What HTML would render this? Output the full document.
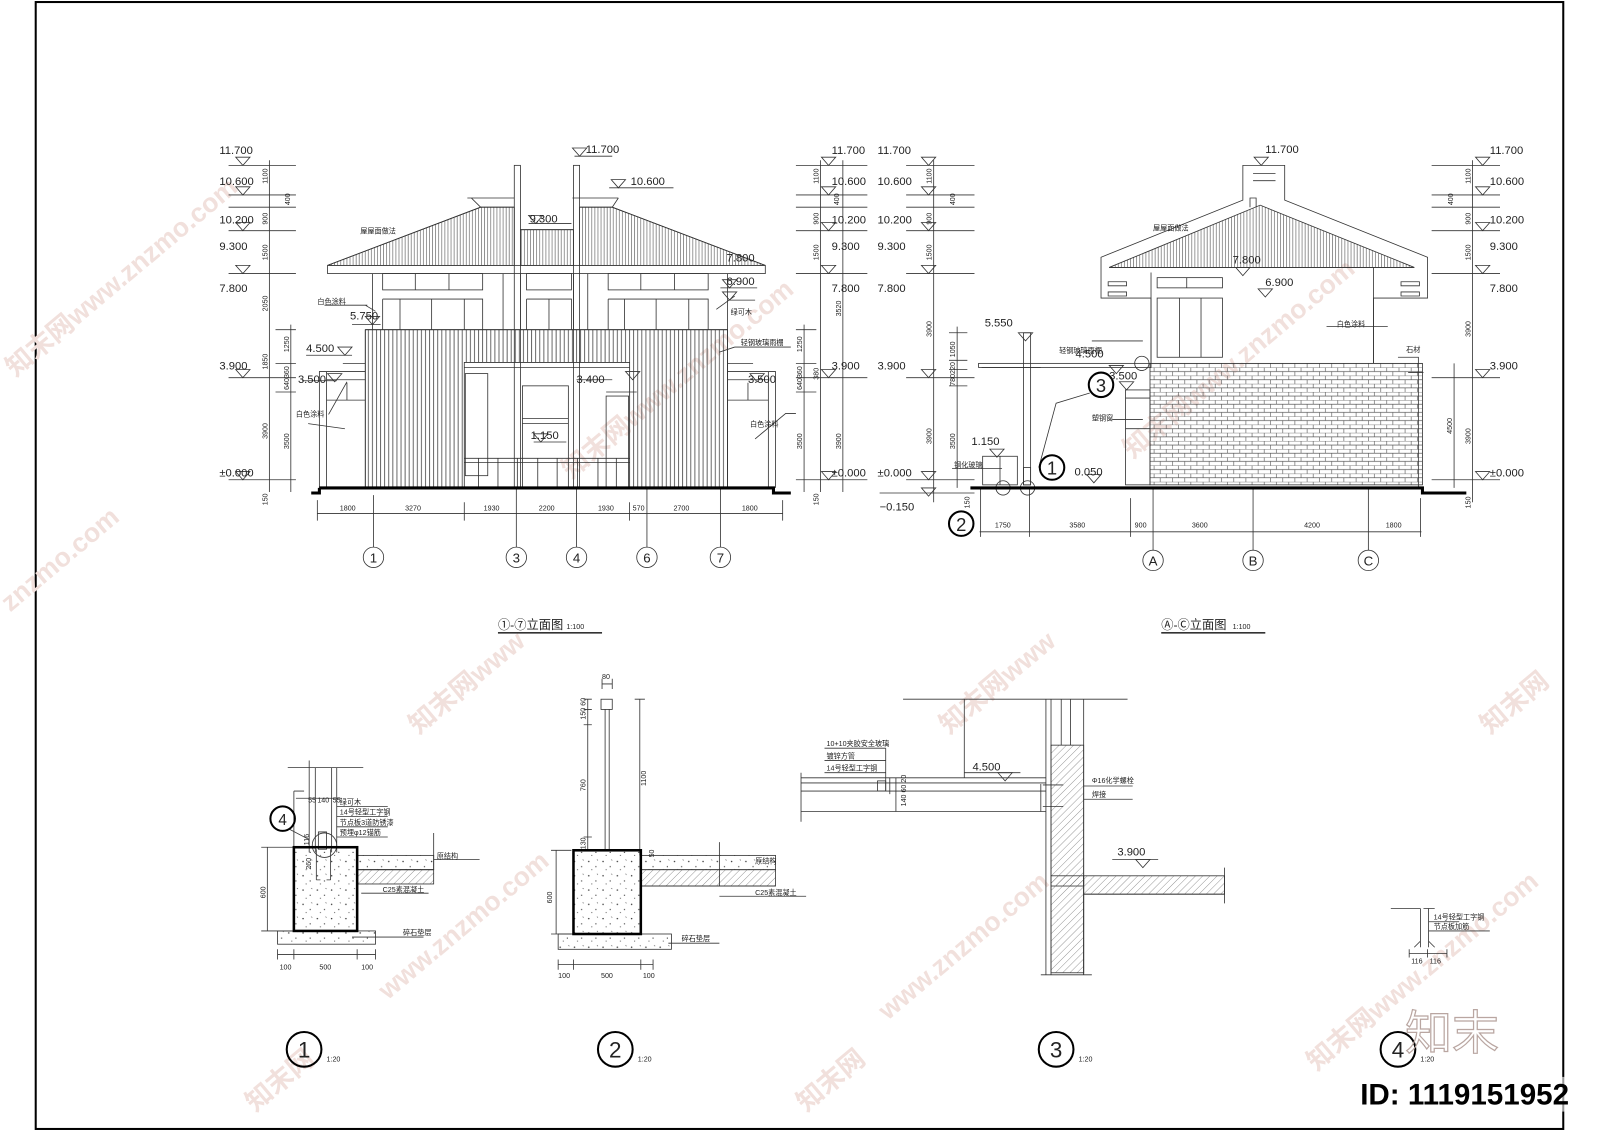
<!DOCTYPE html>
<html><head><meta charset="utf-8">
<style>
html,body{margin:0;padding:0;background:#fff;}
svg{display:block;}
text{font-family:"Liberation Sans","Noto Sans CJK SC",sans-serif;fill:#222;}
.t{font-size:11px;}
.s{font-size:7px;}
.cn{font-size:7px;}
.wm{font-size:26px;fill:#f1e0dc;font-weight:bold;}
.ax{font-size:13px;text-anchor:middle;fill:#444;}
</style></head>
<body>
<svg width="1600" height="1131" viewBox="0 0 1568 1108" preserveAspectRatio="none" xmlns="http://www.w3.org/2000/svg">
<defs>
<pattern id="roof" width="3" height="10" patternUnits="userSpaceOnUse"><line x1="1" y1="0" x2="1" y2="10" stroke="#555" stroke-width="0.6"/></pattern>
<pattern id="slat" width="4" height="10" patternUnits="userSpaceOnUse"><line x1="1" y1="0" x2="1" y2="10" stroke="#444" stroke-width="0.8"/></pattern>
<pattern id="brick" width="12" height="8" patternUnits="userSpaceOnUse"><path d="M0 0H12M0 4H12M3 0V4M9 4V8" stroke="#555" stroke-width="0.6" fill="none"/></pattern>
<pattern id="conc" width="14" height="14" patternUnits="userSpaceOnUse"><circle cx="3" cy="4" r="0.7" fill="#333"/><circle cx="10" cy="9" r="0.6" fill="#333"/><circle cx="6" cy="12" r="0.5" fill="#333"/><path d="M11 2l1 1" stroke="#333" stroke-width="0.5"/></pattern>
<pattern id="hatch" width="5" height="5" patternUnits="userSpaceOnUse" patternTransform="rotate(45)"><line x1="0" y1="0" x2="0" y2="5" stroke="#555" stroke-width="0.6"/></pattern>
<g id="tri"><path d="M-7 0H7L0 8Z" fill="none" stroke="#333" stroke-width="0.8"/></g>
</defs>

<rect x="35" y="2" width="1497" height="1104" fill="none" stroke="#000" stroke-width="2"/>

<g>
<text class="wm" transform="translate(15,370) rotate(-40)">知末网www.znzmo.com</text>
<text class="wm" transform="translate(10,600) rotate(-40)">znzmo.com</text>
<text class="wm" transform="translate(560,470) rotate(-40)">知末网www.znzmo.com</text>
<text class="wm" transform="translate(1110,450) rotate(-40)">知末网www.znzmo.com</text>
<text class="wm" transform="translate(410,720) rotate(-40)">知末网www</text>
<text class="wm" transform="translate(380,980) rotate(-40)">www.znzmo.com</text>
<text class="wm" transform="translate(930,720) rotate(-40)">知末网www</text>
<text class="wm" transform="translate(870,1000) rotate(-40)">www.znzmo.com</text>
<text class="wm" transform="translate(1290,1050) rotate(-40)">知末网www.znzmo.com</text>
<text class="wm" transform="translate(1460,720) rotate(-40)">知末网</text>
<text class="wm" transform="translate(250,1090) rotate(-40)">知末网</text>
<text class="wm" transform="translate(790,1090) rotate(-40)">知末网</text>
</g>

<g stroke="#333" stroke-width="0.8" fill="none">
<path d="M224 162H290M224 191H290M224 203H290M224 226H290M224 268H290M270 323H290M270 356H290M224 370H290M270 384H290M224 470H290"/>
<path d="M264 157V482M285 318V482"/>
<path d="M780 162H850M780 191H850M780 203H850M780 226H850M780 268H850M780 323H800M780 356H800M780 370H850M780 384H800M780 470H850"/>
<path d="M804 157V482M826 157V482M788 318V482"/>
<path d="M321 260L471 203H504V260Z" fill="url(#roof)"/>
<path d="M321 260L471 203H504" />
<path d="M568 203H600L750 260H568Z" fill="url(#roof)"/>
<path d="M568 203H600L750 260"/>
<rect x="510" y="225" width="52" height="35" fill="url(#roof)"/>
<path d="M510 225H562"/>
<rect x="321" y="260" width="429" height="8"/>
<path d="M458 194H504M462 194L471 203M561 194H606M606 194L600 203"/>
<rect x="504" y="162" width="6" height="316"/>
<rect x="562" y="162" width="6" height="316"/>
<path d="M365 268V323M493 268V323M510 268V323M562 268V323M576 268V323M713 268V323"/>
<rect x="375" y="268" width="98" height="16"/><path d="M407 268V284M440 268V284"/>
<rect x="516" y="268" width="44" height="16"/>
<rect x="596" y="268" width="98" height="16"/><path d="M628 268V284M661 268V284"/>
<path d="M375 293H473V323M375 293V323M392 293V323M423 293V323M455 293V323"/>
<path d="M516 293H560V323M516 293V323M538 293V323"/>
<path d="M596 293H694V323M596 293V323M612 293V323M643 293V323M675 293V323"/>
<path d="M358 323H713V478H617V355H455V478H358Z" fill="url(#slat)"/>
<path d="M358 323H713V478M358 323V478M455 355H617"/>
<path d="M455 360H617"/>
<rect x="456" y="366" width="22" height="100"/>
<rect x="512" y="378" width="45" height="100"/>
<path d="M512 415H557M512 410H557"/>
<rect x="594" y="388" width="22" height="90"/>
<path d="M594 384H624"/>
<path d="M455 449H617M455 453H617"/>
<path d="M469 449V478M488 449V478M507 449V478M527 449V478M546 449V478M566 449V478M586 449V478M604 449V478"/>
<path d="M313 478V364H320V478M320 364H358M320 372H358M320 392H358M340 375V392M336 356H358"/>
<path d="M760 478V364H753V478M713 364H753M713 372H753M713 392H753M733 375V392M713 356H738"/>
<path d="M318 299H360M358 299L368 305"/>
<path d="M702 303L720 290"/>
<path d="M720 340L705 345M720 340H775"/>
<path d="M322 406L340 374M302 415L338 420"/>
<path d="M740 430L770 405H780"/>
<path d="M345 318H373"/>
<path d="M300 348H345"/>
<path d="M296 373H330"/>
<path d="M565 372H600"/>
<path d="M523 433H555"/>
<path d="M518 219H560"/>
<path d="M706 282H742"/>
<path d="M715 294H740"/>
<path d="M597 184H660"/>
<path d="M563 153H600"/>
<path d="M311 503H767"/>
<path d="M311 490V510M366 485V536M455 492V510M506 478V536M565 478V536M617 492V510M634 478V536M706 478V536M767 490V510"/>
<circle cx="366" cy="546" r="10"/><circle cx="506" cy="546" r="10"/><circle cx="565" cy="546" r="10"/><circle cx="634" cy="546" r="10"/><circle cx="706" cy="546" r="10"/>
<path d="M488 620H590" stroke-width="1.6"/>
</g>
<path d="M313 478H758V483H775" stroke="#000" stroke-width="3" fill="none"/>
<path d="M305 483H313V478" stroke="#000" stroke-width="3" fill="none"/>

<g fill="none">
<use href="#tri" x="238" y="154"/><use href="#tri" x="238" y="183"/><use href="#tri" x="238" y="218"/><use href="#tri" x="238" y="260"/><use href="#tri" x="238" y="362"/><use href="#tri" x="238" y="462"/>
<use href="#tri" x="812" y="154"/><use href="#tri" x="812" y="183"/><use href="#tri" x="812" y="218"/><use href="#tri" x="812" y="260"/><use href="#tri" x="812" y="362"/><use href="#tri" x="812" y="462"/>
<use href="#tri" x="568" y="145"/><use href="#tri" x="606" y="176"/><use href="#tri" x="525" y="211"/><use href="#tri" x="715" y="274"/><use href="#tri" x="715" y="286"/>
<use href="#tri" x="365" y="310"/><use href="#tri" x="338" y="340"/><use href="#tri" x="328" y="366"/><use href="#tri" x="620" y="364"/><use href="#tri" x="530" y="425"/><use href="#tri" x="742" y="366"/>
</g>
<g class="t">
<text x="215" y="151">11.700</text><text x="215" y="181">10.600</text><text x="215" y="219">10.200</text><text x="215" y="245">9.300</text><text x="215" y="286">7.800</text><text x="215" y="362">3.900</text><text x="215" y="467">±0.000</text>
<text x="815" y="151">11.700</text><text x="815" y="181">10.600</text><text x="815" y="219">10.200</text><text x="815" y="245">9.300</text><text x="815" y="286">7.800</text><text x="815" y="362">3.900</text><text x="815" y="467">±0.000</text>
<text x="574" y="150">11.700</text><text x="618" y="181">10.600</text><text x="519" y="218">9.300</text><text x="712" y="256">7.800</text><text x="712" y="279">6.900</text>
<text x="343" y="313">5.750</text><text x="300" y="345">4.500</text><text x="292" y="375">3.500</text><text x="565" y="375">3.400</text><text x="520" y="430">1.150</text><text x="733" y="375">3.500</text>
<text x="488" y="616" style="font-size:12px">①-⑦立面图</text><text x="555" y="616" style="font-size:7px">1:100</text>
</g>
<g class="ax"><text x="366" y="551">1</text><text x="506" y="551">3</text><text x="565" y="551">4</text><text x="634" y="551">6</text><text x="706" y="551">7</text></g>
<g class="cn">
<text x="353" y="229">屋屋面做法</text><text x="311" y="298">白色涂料</text><text x="716" y="308">绿可木</text><text x="726" y="338">轻钢玻璃雨棚</text>
<text x="290" y="408">白色涂料</text><text x="735" y="418">白色涂料</text>
</g>
<g class="s">
<text x="333" y="500">1800</text><text x="397" y="500">3270</text><text x="474" y="500">1930</text><text x="528" y="500">2200</text><text x="586" y="500">1930</text><text x="620" y="500">570</text><text x="660" y="500">2700</text><text x="727" y="500">1800</text>
<text transform="translate(262,180) rotate(-90)">1100</text><text transform="translate(284,201) rotate(-90)">400</text><text transform="translate(262,220) rotate(-90)">900</text><text transform="translate(262,255) rotate(-90)">1500</text><text transform="translate(262,305) rotate(-90)">2050</text><text transform="translate(262,362) rotate(-90)">1850</text><text transform="translate(262,430) rotate(-90)">3900</text><text transform="translate(262,495) rotate(-90)">150</text>
<text transform="translate(283,345) rotate(-90)">1250</text><text transform="translate(283,382) rotate(-90)">640360</text><text transform="translate(283,440) rotate(-90)">3500</text>
<text transform="translate(802,180) rotate(-90)">1100</text><text transform="translate(822,201) rotate(-90)">400</text><text transform="translate(802,220) rotate(-90)">900</text><text transform="translate(802,255) rotate(-90)">1500</text><text transform="translate(824,310) rotate(-90)">3520</text><text transform="translate(786,345) rotate(-90)">1250</text><text transform="translate(786,382) rotate(-90)">640360</text><text transform="translate(786,440) rotate(-90)">3500</text><text transform="translate(824,440) rotate(-90)">3900</text><text transform="translate(802,372) rotate(-90)">380</text><text transform="translate(802,495) rotate(-90)">150</text>
</g>

<g stroke="#333" stroke-width="0.8" fill="none">
<path d="M888 162H955M888 191H955M888 203H955M888 226H955M888 268H955M888 370H955M888 470H955M862 483H955"/>
<path d="M915 157V492M938 320V478"/>
<path d="M930 326H948M930 353H948M930 362H948M930 378H948"/>
<path d="M1403 162H1470M1403 191H1470M1403 203H1470M1403 226H1470M1403 268H1470M1403 370H1470M1403 470H1470"/>
<path d="M1443 157V492M1425 356V478"/>
<path d="M1128 356V292H1079V252L1218 196V162H1259V196L1399 252V292H1346V356"/>
<path d="M1087 262L1235 201L1386 262Z" fill="url(#roof)"/>
<path d="M1087 262H1386"/>
<path d="M1225 203V194H1231V203"/>
<path d="M1228 170H1250M1228 177H1250M1086 276H1104V280H1086ZM1086 286H1104V290H1086ZM1373 276H1391V280H1373ZM1373 286H1391V290H1373Z"/>
<path d="M1128 267V356M1346 262V356"/>
<rect x="1134" y="272" width="64" height="10"/><path d="M1163 272V282"/>
<rect x="1134" y="292" width="64" height="58"/><path d="M1156 292V350M1177 292V350"/>
<rect x="1127" y="356" width="267" height="119" fill="url(#brick)"/>
<rect x="959" y="356" width="169" height="4"/><path d="M962 360H1020"/>
<rect x="1003" y="326" width="7" height="149"/>
<rect x="1103" y="382" width="24" height="93"/><path d="M1103 390H1127M1103 420H1127"/>
<rect x="963" y="447" width="34" height="28"/><path d="M980 447V475"/>
<rect x="1003" y="458" width="7" height="17"/>
<circle cx="1119" cy="356" r="7"/><circle cx="983" cy="478" r="7"/><circle cx="1007" cy="478" r="7"/>
<path d="M1018 458L1035 395L1068 385"/>
<path d="M933 459H982"/>
<path d="M1300 320H1360M1370 350H1390V356M1380 365H1395"/>
<path d="M1090 411H1120"/>
<path d="M1070 334H1120"/>
<path d="M960 521H1393"/>
<path d="M961 478V526M1009 478V526M1108 488V526M1130 478V539M1228 478V539M1341 478V539M1392 488V526"/>
<circle cx="1130" cy="549" r="10"/><circle cx="1228" cy="549" r="10"/><circle cx="1341" cy="549" r="10"/>
<path d="M1138 620H1240" stroke-width="1.6"/>
<path d="M1390 356V478"/>
</g>
<path d="M951 478H1394V483H1437" stroke="#000" stroke-width="3" fill="none"/>
<g stroke="#000" stroke-width="2" fill="none">
<circle cx="1031" cy="458" r="12"/><circle cx="1079" cy="377" r="12"/><circle cx="942" cy="513" r="12"/>
</g>
<g fill="none">
<use href="#tri" x="910" y="154"/><use href="#tri" x="910" y="183"/><use href="#tri" x="910" y="218"/><use href="#tri" x="910" y="260"/><use href="#tri" x="910" y="362"/><use href="#tri" x="910" y="462"/><use href="#tri" x="910" y="478"/>
<use href="#tri" x="1453" y="154"/><use href="#tri" x="1453" y="183"/><use href="#tri" x="1453" y="218"/><use href="#tri" x="1453" y="260"/><use href="#tri" x="1453" y="362"/><use href="#tri" x="1453" y="462"/>
<use href="#tri" x="1236" y="154"/><use href="#tri" x="1218" y="262"/><use href="#tri" x="1240" y="283"/><use href="#tri" x="1005" y="326"/><use href="#tri" x="1094" y="358"/><use href="#tri" x="1104" y="374"/><use href="#tri" x="1072" y="465"/><use href="#tri" x="977" y="440"/>
</g>
<g class="t">
<text x="860" y="151">11.700</text><text x="860" y="181">10.600</text><text x="860" y="219">10.200</text><text x="860" y="245">9.300</text><text x="860" y="286">7.800</text><text x="860" y="362">3.900</text><text x="860" y="467">±0.000</text><text x="862" y="500">−0.150</text>
<text x="1460" y="151">11.700</text><text x="1460" y="181">10.600</text><text x="1460" y="219">10.200</text><text x="1460" y="245">9.300</text><text x="1460" y="286">7.800</text><text x="1460" y="362">3.900</text><text x="1460" y="467">±0.000</text>
<text x="1240" y="150">11.700</text><text x="1208" y="258">7.800</text><text x="1240" y="280">6.900</text><text x="965" y="320">5.550</text><text x="1054" y="350">4.500</text><text x="1087" y="372">3.500</text><text x="952" y="436">1.150</text><text x="1053" y="466">0.050</text>
<text x="1138" y="616" style="font-size:12px">Ⓐ-Ⓒ立面图</text><text x="1208" y="616" style="font-size:7px">1:100</text>
</g>
<g class="ax"><text x="1130" y="554">A</text><text x="1228" y="554">B</text><text x="1341" y="554">C</text></g>
<g style="font-size:18px;font-family:'Liberation Sans',sans-serif;text-anchor:middle"><text x="1031" y="465">1</text><text x="1079" y="384">3</text><text x="942" y="520">2</text></g>
<g class="cn">
<text x="1130" y="226">屋屋面做法</text><text x="1310" y="320">白色涂料</text><text x="1378" y="345">石材</text><text x="1038" y="346">轻钢玻璃雨棚</text><text x="1070" y="412">塑钢窗</text><text x="935" y="458">钢化玻璃</text>
</g>
<g class="s">
<text x="975" y="517">1750</text><text x="1048" y="517">3580</text><text x="1112" y="517">900</text><text x="1168" y="517">3600</text><text x="1278" y="517">4200</text><text x="1358" y="517">1800</text>
<text transform="translate(913,180) rotate(-90)">1100</text><text transform="translate(936,201) rotate(-90)">400</text><text transform="translate(913,220) rotate(-90)">900</text><text transform="translate(913,255) rotate(-90)">1500</text><text transform="translate(913,330) rotate(-90)">3900</text><text transform="translate(913,435) rotate(-90)">3900</text><text transform="translate(936,350) rotate(-90)">1050</text><text transform="translate(936,378) rotate(-90)">780220</text><text transform="translate(936,440) rotate(-90)">3500</text><text transform="translate(950,498) rotate(-90)">150</text>
<text transform="translate(1441,180) rotate(-90)">1100</text><text transform="translate(1424,201) rotate(-90)">400</text><text transform="translate(1441,220) rotate(-90)">900</text><text transform="translate(1441,255) rotate(-90)">1500</text><text transform="translate(1441,330) rotate(-90)">3900</text><text transform="translate(1441,435) rotate(-90)">3900</text><text transform="translate(1423,425) rotate(-90)">4500</text><text transform="translate(1441,498) rotate(-90)">150</text>
</g>

<g stroke="#333" stroke-width="0.8" fill="none">
<path d="M282 752H356M303 745V835M309 752V835M325 752V835M330 752V835"/>
<rect x="272" y="912" width="96" height="13" fill="url(#conc)"/>
<rect x="350" y="838" width="75" height="14" fill="url(#conc)"/>
<rect x="350" y="852" width="75" height="14" fill="url(#hatch)"/>
<path d="M425 816V852M350 852H425"/>
<path d="M312 815H320V832H312Z"/>
<circle cx="318" cy="828" r="12"/>
<path d="M310 832V862M324 832V862M310 862H314M320 862H324"/>
<path d="M288 775H298M288 775V905M262 830V912M256 830H290M256 912H290"/>
<path d="M330 790H380M330 800H380M330 810H380M330 820H380M425 842H470M354 875H420M345 918H415"/>
<path d="M272 935H368M272 930V940M288 930V940M350 930V940M368 930V940M290 782H335"/>
<path d="M283 812L302 822"/>
<rect x="589" y="685" width="11" height="10"/>
<path d="M593 695V833M597 695V833"/>
<path d="M576 685V833M572 685H580M572 695H580M572 710H580M572 820H580M572 833H580M627 685V838M622 685H632"/>
<rect x="547" y="915" width="111" height="15" fill="url(#conc)"/>
<rect x="628" y="838" width="132" height="14" fill="url(#conc)"/>
<rect x="628" y="852" width="132" height="16" fill="url(#hatch)"/>
<path d="M705 825V868M705 878H790M628 868H760M655 924H705"/>
<path d="M545 833V915M540 833H560M540 915H560M547 945H640M547 940V950M562 940V950M628 940V950M640 940V950M590 670H600M590 665V675M600 665V675"/>
<path d="M885 685H1105M945 685V762"/>
<path d="M1025 685V955M1030 685V955M1062 685V955M1049 685V730M1040 685V730"/>
<rect x="1030" y="730" width="32" height="138" fill="url(#hatch)"/>
<rect x="1030" y="858" width="32" height="95" fill="url(#hatch)"/>
<rect x="1062" y="858" width="138" height="18" fill="url(#hatch)"/>
<path d="M1062 876H1200M1062 876V955M1200 850V885M1020 955H1070"/>
<path d="M785 762H1025M785 767H1025M785 775H1025M785 795H1025M785 757V805"/>
<rect x="860" y="765" width="8" height="10"/>
<path d="M808 733H868M808 745H868M808 757H868M868 733V775"/>
<path d="M1022 769H1042M1022 790H1042M1020 768V795M1062 770H1110M1062 783H1110"/>
<path d="M872 762V778M878 762V795"/>
<path d="M945 757H1000M1090 842H1135"/>
<path d="M1363 890H1392M1395 890H1406M1392 890V928M1400 890V928M1386 928L1392 922M1406 928L1400 922M1400 903H1430M1400 912H1460M1381 934H1418M1381 930V938M1399 930V938M1418 930V938"/>
</g>
<g>
<rect x="288" y="830" width="62" height="82" fill="url(#conc)" stroke="#000" stroke-width="2.5"/>
<rect x="562" y="833" width="66" height="82" fill="url(#conc)" stroke="#000" stroke-width="2.5"/>
</g>
<g class="s">
<text x="302" y="786">55</text><text x="311" y="786">140</text><text x="326" y="786">55</text>
<text transform="translate(260,880) rotate(-90)">600</text><text transform="translate(305,852) rotate(-90)">260</text><text transform="translate(303,828) rotate(-90)">116</text>
<text x="274" y="950">100</text><text x="313" y="950">500</text><text x="354" y="950">100</text>
<text x="590" y="665">80</text><text transform="translate(574,705) rotate(-90)">150 60</text><text transform="translate(574,775) rotate(-90)">760</text><text transform="translate(574,832) rotate(-90)">130</text><text transform="translate(633,770) rotate(-90)">1100</text><text transform="translate(641,840) rotate(-90)">50</text>
<text transform="translate(541,885) rotate(-90)">600</text><text x="547" y="958">100</text><text x="589" y="958">500</text><text x="630" y="958">100</text>
<text transform="translate(888,790) rotate(-90)">140 60 20</text>
<text x="1383" y="944">116</text><text x="1401" y="944">116</text>
</g>
<g class="cn">
<text x="333" y="788">绿可木</text><text x="333" y="798">14号轻型工字钢</text><text x="333" y="808">节点板3道防锈漆</text><text x="333" y="818">预埋φ12锚筋</text>
<text x="428" y="841">原结构</text><text x="375" y="874">C25素混凝土</text><text x="395" y="916">碎石垫层</text>
<text x="740" y="846">原结构</text><text x="740" y="877">C25素混凝土</text><text x="668" y="922">碎石垫层</text>
<text x="810" y="731">10+10夹胶安全玻璃</text><text x="810" y="743">镀锌方管</text><text x="810" y="755">14号轻型工字钢</text>
<text x="1070" y="767">Φ16化学螺栓</text><text x="1070" y="781">焊接</text>
<text x="1405" y="901">14号轻型工字钢</text><text x="1405" y="910">节点板加筋</text>
</g>
<g class="t">
<text x="953" y="755">4.500</text><text x="1095" y="838">3.900</text>
</g>
<g fill="none"><use href="#tri" x="985" y="757"/><use href="#tri" x="1120" y="842"/></g>
<g stroke="#000" stroke-width="2" fill="none">
<circle cx="277" cy="802" r="12"/>
<circle cx="298" cy="1028" r="17"/><circle cx="603" cy="1028" r="17"/><circle cx="1035" cy="1028" r="17"/><circle cx="1370" cy="1028" r="17"/>
</g>
<g style="font-family:'Liberation Sans',sans-serif;font-size:22px;fill:#333;text-anchor:middle">
<text x="298" y="1036">1</text><text x="603" y="1036">2</text><text x="1035" y="1036">3</text><text x="1370" y="1036">4</text>
</g>
<text x="277" y="808" style="font-size:15px;text-anchor:middle">4</text>
<g class="s"><text x="320" y="1040">1:20</text><text x="625" y="1040">1:20</text><text x="1057" y="1040">1:20</text><text x="1392" y="1040">1:20</text></g>

<text x="1377" y="1028" style="font-size:46px;fill:none;stroke:#b9a6a1;stroke-width:1.2;font-family:'Noto Sans CJK SC',sans-serif">知末</text>
<rect x="1335" y="1055" width="200" height="34" fill="#fff" opacity="0.6"/>
<text x="1333" y="1082" style="font-size:29px;font-weight:bold;fill:#000;font-family:'Liberation Sans',sans-serif">ID: 1119151952</text>
</svg>
</body></html>
